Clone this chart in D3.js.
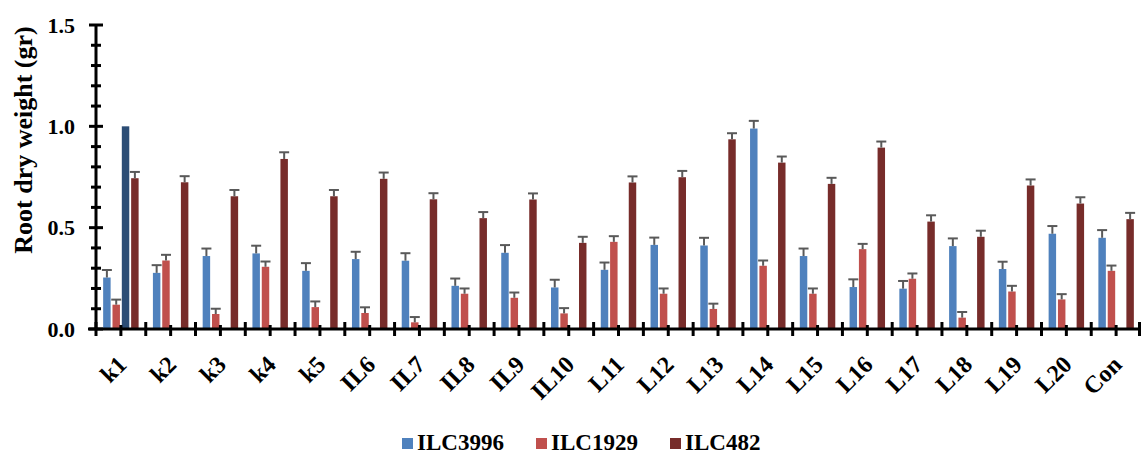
<!DOCTYPE html>
<html>
<head>
<meta charset="utf-8">
<script src="https://cdn.jsdelivr.net/npm/d3@7"></script>
<style>
  body { margin: 0; background: #fff; }
  svg text { font-family: "Liberation Serif", "Times New Roman", serif; font-weight: bold; fill: #000; }
</style>
</head>
<body>
<div id="chart"></div>
<script>
// --- Root dry weight data ---
const categories = ["k1", "k2", "k3", "k4", "k5", "IL6", "IL7", "IL8", "IL9", "IL10",
    "L11", "L12", "L13", "L14", "L15", "L16", "L17", "L18", "L19", "L20", "Con"];

const ilc3996 = [0.254, 0.277, 0.360, 0.373, 0.287, 0.345, 0.337, 0.213, 0.376, 0.205, 0.292,
    0.415, 0.412, 0.989, 0.360, 0.207, 0.199, 0.409, 0.296, 0.470, 0.450];
const ilc3996Err = [0.037, 0.038, 0.037, 0.038, 0.038, 0.036, 0.037, 0.036, 0.038, 0.038, 0.036,
    0.036, 0.038, 0.038, 0.037, 0.038, 0.038, 0.038, 0.036, 0.038, 0.038];

const ilc1929 = [0.120, 0.338, 0.074, 0.307, 0.108, 0.079, 0.033, 0.174, 0.154, 0.077, 0.430,
    0.174, 0.099, 0.312, 0.174, 0.394, 0.248, 0.056, 0.185, 0.146, 0.287];
const ilc1929Err = [0.025, 0.028, 0.026, 0.026, 0.028, 0.028, 0.026, 0.026, 0.026, 0.026, 0.028,
    0.026, 0.026, 0.026, 0.026, 0.026, 0.026, 0.028, 0.028, 0.026, 0.026];

// unlabelled bar that only shows up in the k1 group
const extra = [1.0, null, null, null, null, null, null, null, null, null, null,
    null, null, null, null, null, null, null, null, null, null];

const ilc482 = [0.744, 0.724, 0.655, 0.839, 0.655, 0.741, 0.640, 0.547, 0.639, 0.425, 0.723,
    0.749, 0.936, 0.821, 0.716, 0.895, 0.530, 0.455, 0.708, 0.619, 0.542];
const ilc482Err = [0.031, 0.030, 0.031, 0.033, 0.031, 0.031, 0.030, 0.030, 0.030, 0.030, 0.030,
    0.031, 0.030, 0.030, 0.030, 0.030, 0.031, 0.030, 0.030, 0.031, 0.031];

const yTicks = [0, 0.5, 1.0, 1.5];
const legendNames = ["ILC3996", "ILC1929", "ILC482"];

const series = [
    { key: "ILC3996", values: ilc3996, err: ilc3996Err, color: "#4f81bd" },
    { key: "ILC1929", values: ilc1929, err: ilc1929Err, color: "#c0504d" },
    { key: "extra", values: extra, err: null, color: "#2c4d75" },
    { key: "ILC482", values: ilc482, err: ilc482Err, color: "#772c2a" }
];

// --- Setup ---
const W = 1141, H = 455;
const plotLeft = 96, plotRight = 1141, plotTop = 25, plotBottom = 329;

const svg = d3.select("#chart").append("svg")
    .attr("width", W)
    .attr("height", H);

const x0 = d3.scaleBand()
    .domain(categories)
    .range([plotLeft, plotRight])
    .paddingInner(0.25)
    .paddingOuter(0.125);

const x1 = d3.scaleBand()
    .domain(series.map(s => s.key))
    .range([0, x0.bandwidth()])
    .paddingInner(0.2)
    .paddingOuter(0.1);

const y = d3.scaleLinear().domain([0, 1.5]).range([plotBottom, plotTop]);

// --- Bars ---
const rows = [];
series.forEach(s => {
    categories.forEach((c, i) => {
        if (s.values[i] == null) return;
        rows.push({ cat: c, key: s.key, v: s.values[i], e: s.err ? s.err[i] : 0, color: s.color });
    });
});

svg.append("g").selectAll("rect")
    .data(rows)
    .join("rect")
    .attr("x", d => x0(d.cat) + x1(d.key))
    .attr("y", d => y(d.v))
    .attr("width", x1.bandwidth())
    .attr("height", d => y(0) - y(d.v))
    .attr("fill", d => d.color);

// --- Error bars (plus side only) ---
const eb = svg.append("g")
    .attr("stroke", "#595959")
    .attr("stroke-width", 2);

const withErr = rows.filter(d => d.e > 0);
eb.selectAll("line.stem")
    .data(withErr)
    .join("line")
    .attr("class", "stem")
    .attr("x1", d => x0(d.cat) + x1(d.key) + x1.bandwidth() / 2)
    .attr("x2", d => x0(d.cat) + x1(d.key) + x1.bandwidth() / 2)
    .attr("y1", d => y(d.v))
    .attr("y2", d => y(d.v + d.e));

eb.selectAll("line.cap")
    .data(withErr)
    .join("line")
    .attr("class", "cap")
    .attr("x1", d => x0(d.cat) + x1(d.key) + x1.bandwidth() / 2 - 5)
    .attr("x2", d => x0(d.cat) + x1(d.key) + x1.bandwidth() / 2 + 5)
    .attr("y1", d => y(d.v + d.e))
    .attr("y2", d => y(d.v + d.e));

// --- Y axis ---
const yAxis = svg.append("g");
yAxis.append("line")
    .attr("x1", plotLeft).attr("x2", plotLeft)
    .attr("y1", y(1.5)).attr("y2", y(0))
    .attr("stroke", "#000").attr("stroke-width", 3);

const minor = d3.range(0, 16).map(i => i / 10);
yAxis.selectAll("line.ytick")
    .data(minor)
    .join("line")
    .attr("class", "ytick")
    .attr("x1", d => plotLeft - (Math.round(d * 10) % 5 === 0 ? 7 : 5))
    .attr("x2", d => plotLeft + (Math.round(d * 10) % 5 === 0 ? 7 : 5))
    .attr("y1", d => y(d)).attr("y2", d => y(d))
    .attr("stroke", "#000").attr("stroke-width", 3);

yAxis.selectAll("text")
    .data(yTicks)
    .join("text")
    .attr("x", 75)
    .attr("y", d => y(d))
    .attr("dy", "0.35em")
    .attr("text-anchor", "end")
    .style("font-size", "22px")
    .text(d3.format(".1f"));

svg.append("text")
    .attr("transform", "translate(32, 140) rotate(-90)")
    .attr("text-anchor", "middle")
    .style("font-size", "26px")
    .text("Root dry weight (gr)");

// --- X axis ---
const xAxis = svg.append("g");
xAxis.append("line")
    .attr("x1", plotLeft - 8).attr("x2", plotRight)
    .attr("y1", y(0)).attr("y2", y(0))
    .attr("stroke", "#000").attr("stroke-width", 3);

const bounds = categories.map(c => x0(c) - x0.step() * 0.125).concat([plotRight - 1.5]);
xAxis.selectAll("line.bnd")
    .data(bounds)
    .join("line")
    .attr("class", "bnd")
    .attr("x1", d => d).attr("x2", d => d)
    .attr("y1", y(0) - 7).attr("y2", y(0) + 7)
    .attr("stroke", "#000").attr("stroke-width", 3);

xAxis.selectAll("line.mid")
    .data(categories)
    .join("line")
    .attr("class", "mid")
    .attr("x1", c => x0(c) + x0.bandwidth() / 2)
    .attr("x2", c => x0(c) + x0.bandwidth() / 2)
    .attr("y1", y(0) - 4).attr("y2", y(0) + 7)
    .attr("stroke", "#000").attr("stroke-width", 3);

xAxis.selectAll("text")
    .data(categories)
    .join("text")
    .attr("transform", c => `translate(${x0(c) + x0.bandwidth() / 2 + 7}, ${y(0) + 37}) rotate(-45)`)
    .attr("text-anchor", "end")
    .style("font-size", "24px")
    .text(c => c);

// --- Legend ---
const legendX = [402, 536, 670];
const lg = svg.append("g");
legendNames.forEach((name, i) => {
    const s = series.find(d => d.key === name);
    lg.append("rect")
        .attr("x", legendX[i]).attr("y", 438)
        .attr("width", 11).attr("height", 11)
        .attr("fill", s.color);
    lg.append("text")
        .attr("x", legendX[i] + 15)
        .attr("y", 450)
        .style("font-size", "23px")
        .text(name);
});
</script>
</body>
</html>
